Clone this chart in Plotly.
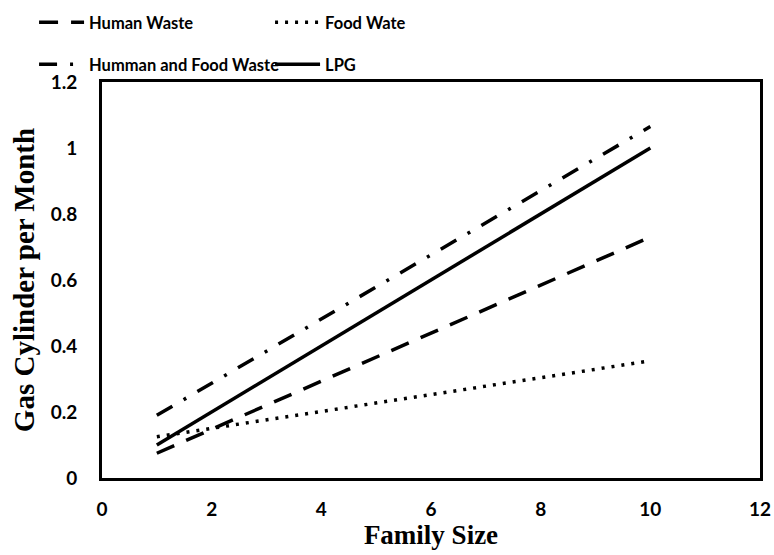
import plotly.graph_objects as go

family_size = [1, 10]
human_waste = [0.075, 0.73]
food_waste = [0.125, 0.355]
human_food_waste = [0.19, 1.065]
lpg = [0.1, 1.0]

series_names = ["Human Waste", "Food Wate", "Humman and Food Waste", "LPG"]
x_ticks = [0, 2, 4, 6, 8, 10, 12]
y_ticks = [0, 0.2, 0.4, 0.6, 0.8, 1, 1.2]
y_tick_text = ["0", "0.2", "0.4", "0.6", "0.8", "1", "1.2"]

fig = go.Figure()
fig.add_trace(go.Scatter(x=family_size, y=human_waste, mode="lines", name=series_names[0],
                         line=dict(color="black", width=3.5, dash="19px,13px"), legend="legend"))
fig.add_trace(go.Scatter(x=family_size, y=food_waste, mode="lines", name=series_names[1],
                         line=dict(color="black", width=3.5, dash="3px,7px"), legend="legend"))
fig.add_trace(go.Scatter(x=family_size, y=human_food_waste, mode="lines", name=series_names[2],
                         line=dict(color="black", width=3.5, dash="18px,13px,3px,13px"), legend="legend2"))
fig.add_trace(go.Scatter(x=family_size, y=lpg, mode="lines", name=series_names[3],
                         line=dict(color="black", width=3.5), legend="legend2"))

tick_font = dict(family="Lato, Liberation Sans, Arial", size=19, color="black")
legend_font = dict(family="Lato, Liberation Sans, Arial", size=16.5, color="black")

fig.update_layout(
    width=774, height=555,
    margin=dict(l=102, r=14, t=82, b=77, autoexpand=False),
    plot_bgcolor="white", paper_bgcolor="white",
    font=dict(family="Lato, Liberation Sans, Arial", color="black"),
    legend=dict(orientation="h", x=0.044, xanchor="left", y=0.991, yanchor="top",
                yref="container", xref="container", entrywidth=176, entrywidthmode="pixels",
                itemwidth=45, font=legend_font, bgcolor="rgba(0,0,0,0)"),
    legend2=dict(orientation="h", x=0.044, xanchor="left", y=0.9153, yanchor="top",
                 yref="container", xref="container", entrywidth=176, entrywidthmode="pixels",
                 itemwidth=45, font=legend_font, bgcolor="rgba(0,0,0,0)"),
    xaxis=dict(range=[0, 12], tickvals=x_ticks, ticktext=[f"<b>{t}</b>" for t in x_ticks],
               showline=True, linecolor="black", linewidth=3, mirror=True,
               showgrid=False, zeroline=False, ticks="", tickfont=tick_font,
               ticklabelstandoff=12,
               title=dict(text="<b>Family Size</b>", font=dict(family="Liberation Serif, Times New Roman", size=27, color="black"), standoff=4)),
    yaxis=dict(range=[0, 1.2], tickvals=y_ticks, ticktext=[f"<b>{t}</b>" for t in y_tick_text],
               showline=True, linecolor="black", linewidth=3, mirror=True,
               showgrid=False, zeroline=False, ticks="", tickfont=tick_font,
               ticklabelstandoff=18,
               title=dict(text="<b>Gas Cylinder per Month</b>", font=dict(family="Liberation Serif, Times New Roman", size=29, color="black"), standoff=8)),
)

fig.for_each_trace(lambda t: t.update(name=f"<b>{t.name}</b>"))

# remove the page's default body margin so the figure fills the window exactly
fig.write_html("out.html", config={"displayModeBar": False},
               post_script="document.body.style.margin='0';document.body.style.overflow='hidden';")
